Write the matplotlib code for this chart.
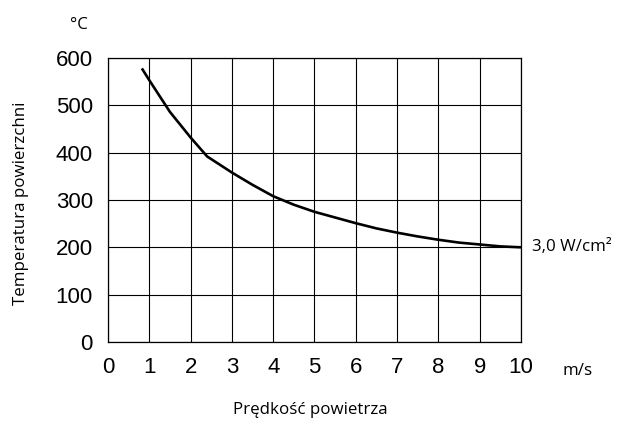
from matplotlib import pyplot as plt

predkosc = [0.82, 1.0, 1.5, 2.0, 2.4, 3.0, 3.5, 4.0, 4.5, 5.0, 5.5,
            6.0, 6.5, 7.0, 7.5, 8.0, 8.5, 9.0, 9.5, 10.0]
temperatura = [578, 553, 486, 432, 392, 358, 332, 308, 290, 275, 263,
               251, 240, 231, 223, 216, 210, 206, 202, 200]

x_ticks = list(range(0, 11))
y_ticks = list(range(0, 601, 100))

fig = plt.figure(figsize=(6.24, 4.23), dpi=100)
ax = fig.add_axes([0.1731, 0.1915, 0.6618, 0.6714])

ax.plot(predkosc, temperatura, color='black', lw=1.9, solid_capstyle='butt',
        solid_joinstyle='round')

ax.set_xlim(0, 10)
ax.set_ylim(0, 600)
ax.set_xticks(x_ticks)
ax.set_yticks(y_ticks)
ax.grid(True, color='black', lw=0.8)
ax.set_axisbelow(True)
for s in ax.spines.values():
    s.set_linewidth(0.9)
ax.tick_params(length=0, pad=11, labelsize=16)
for lbl in ax.get_xticklabels() + ax.get_yticklabels():
    lbl.set_family('Liberation Sans')

fnt = 'Open Sans'
fig.text(0.034, 0.519, 'Temperatura powierzchni', rotation=90, ha='center', va='center',
         family=fnt, fontsize=12.2)
fig.text(0.497, 0.031, 'Prędkość powietrza', ha='center', va='center', family=fnt,
         fontsize=12.2)
fig.text(0.127, 0.941, '°C', ha='center', va='center', family=fnt, fontsize=12.2)
fig.text(0.926, 0.123, 'm/s', ha='center', va='center', family=fnt, fontsize=12.2)
ax.annotate('3,0 W/cm²', xy=(10, 200), xytext=(8, 0), textcoords='offset points',
            ha='left', va='center', family=fnt, fontsize=12.2)

plt.savefig('out.png', dpi=100)
